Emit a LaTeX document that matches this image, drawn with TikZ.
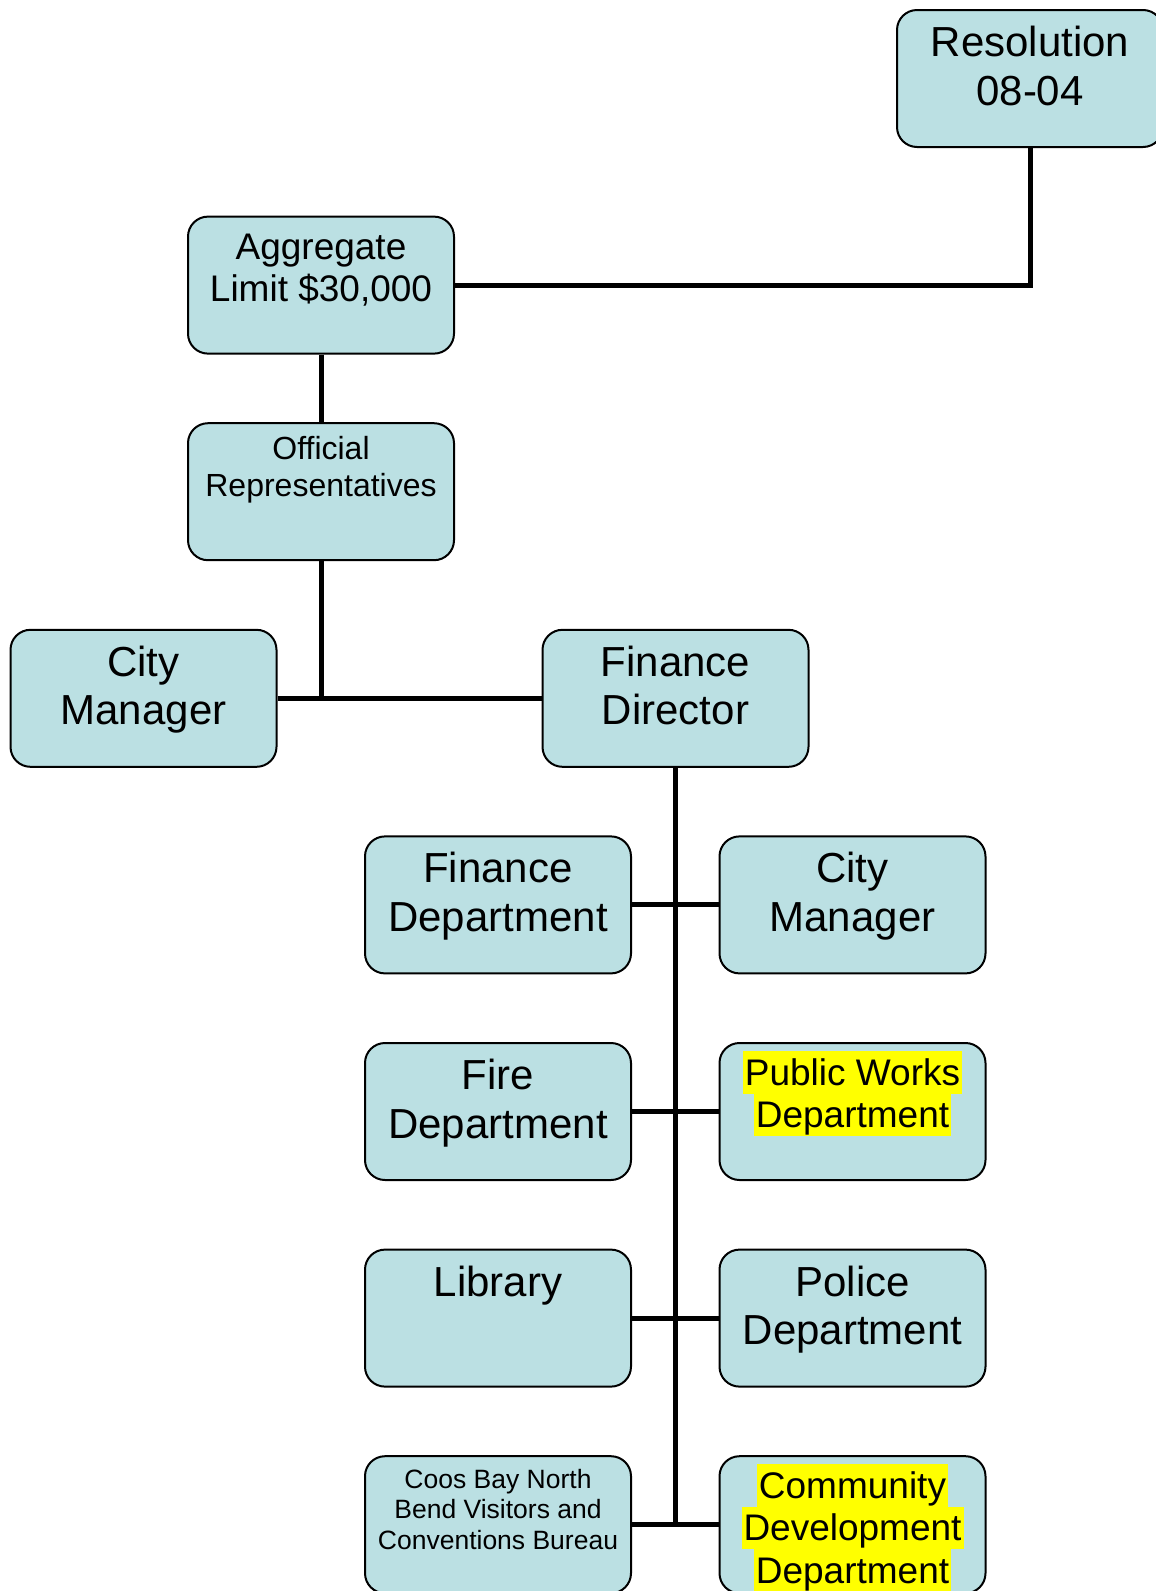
\documentclass[tikz,border=0pt]{standalone}
\usepackage{fontspec}
\setmainfont{Liberation Sans}
\definecolor{boxfill}{RGB}{187,224,227}
\definecolor{hlyellow}{RGB}{255,255,0}
\newcommand\fbig{\fontsize{42}{48.5}\selectfont}
\newcommand\fmid{\fontsize{37}{42.5}\selectfont}
\newcommand\foff{\fontsize{32}{37.5}\selectfont}
\newcommand\fsml{\fontsize{26.5}{30.5}\selectfont}
\newcommand\hlt[1]{{\setlength\fboxsep{0pt}\colorbox{hlyellow}{\rule[-0.2\baselineskip]{0pt}{\baselineskip}\hspace{2pt}#1\hspace{2pt}}}}
\tikzset{
  orgbox/.style={draw=black, line width=2pt, fill=boxfill, rounded corners=20pt,
    minimum width=266pt, minimum height=137pt, inner sep=0pt},
  txt/.style={anchor=base, align=center, inner sep=0pt},
  conn/.style={line width=5pt, line join=miter}
}
\begin{document}
\begin{tikzpicture}[x=1pt,y=-1pt]
\useasboundingbox (0,0) rectangle (1156,1591);
% boxes
\node[orgbox] (res) at (1030,78.5) {};
\node[orgbox] (agg) at (321,285.1) {};
\node[orgbox] (off) at (321,491.7) {};
\node[orgbox] (cmA) at (143.5,698.3) {};
\node[orgbox] (fd)  at (675.5,698.3) {};
\node[orgbox] (finD) at (498,904.9) {};
\node[orgbox] (cmB)  at (852.5,904.9) {};
\node[orgbox] (fire) at (498,1111.5) {};
\node[orgbox] (pw)   at (852.5,1111.5) {};
\node[orgbox] (lib)  at (498,1318.1) {};
\node[orgbox] (pol)  at (852.5,1318.1) {};
\node[orgbox] (coos) at (498,1524.7) {};
\node[orgbox] (cdd)  at (852.5,1524.7) {};
% connectors
\draw[conn] (res.south) |- (agg.east);
\draw[conn] (agg.south) -- (off.north);
\draw[conn] (off.south) -- (off.south |- cmA.east);
\draw[conn] (cmA.east) -- (fd.west);
\draw[conn] (fd.south) -- (fd.south |- coos.east);
\draw[conn] (finD.east) -- (cmB.west);
\draw[conn] (fire.east) -- (pw.west);
\draw[conn] (lib.east) -- (pol.west);
\draw[conn] (coos.east) -- (cdd.west);
% texts (base anchor = baseline of last line)
\node[txt, font=\fbig] (resT) at ([yshift=-96pt]res.north) {Resolution\\08-04};
\node[txt, font=\fmid] (aggT) at ([yshift=-86pt]agg.north) {Aggregate\\Limit \$30,000};
\node[txt, font=\foff] (offT) at ([yshift=-74.5pt]off.north) {Official\\Representatives};
\node[txt, font=\fbig] (cmAT) at ([yshift=-96pt]cmA.north) {City\\Manager};
\node[txt, font=\fbig] (fdT) at ([yshift=-96pt]fd.north) {Finance\\Director};
\node[txt, font=\fbig] (finDT) at ([yshift=-96pt]finD.north) {Finance\\Department};
\node[txt, font=\fbig] (cmBT) at ([yshift=-96pt]cmB.north) {City\\Manager};
\node[txt, font=\fbig] (fireT) at ([yshift=-96pt]fire.north) {Fire\\Department};
\node[txt, font=\fmid] (pwT) at ([yshift=-85.5pt]pw.north) {\hlt{Public Works}\\\hlt{Department}};
\node[txt, font=\fbig] (libT) at ([yshift=-47.5pt]lib.north) {Library};
\node[txt, font=\fbig] (polT) at ([yshift=-96pt]pol.north) {Police\\Department};
\node[txt, font=\fsml] (coosT) at ([yshift=-94pt]coos.north) {Coos Bay North\\Bend Visitors and\\Conventions Bureau};
\node[txt, font=\fmid] (cddT) at ([yshift=-128pt]cdd.north) {\hlt{Community}\\\hlt{Development}\\\hlt{Department}};
\end{tikzpicture}
\end{document}
